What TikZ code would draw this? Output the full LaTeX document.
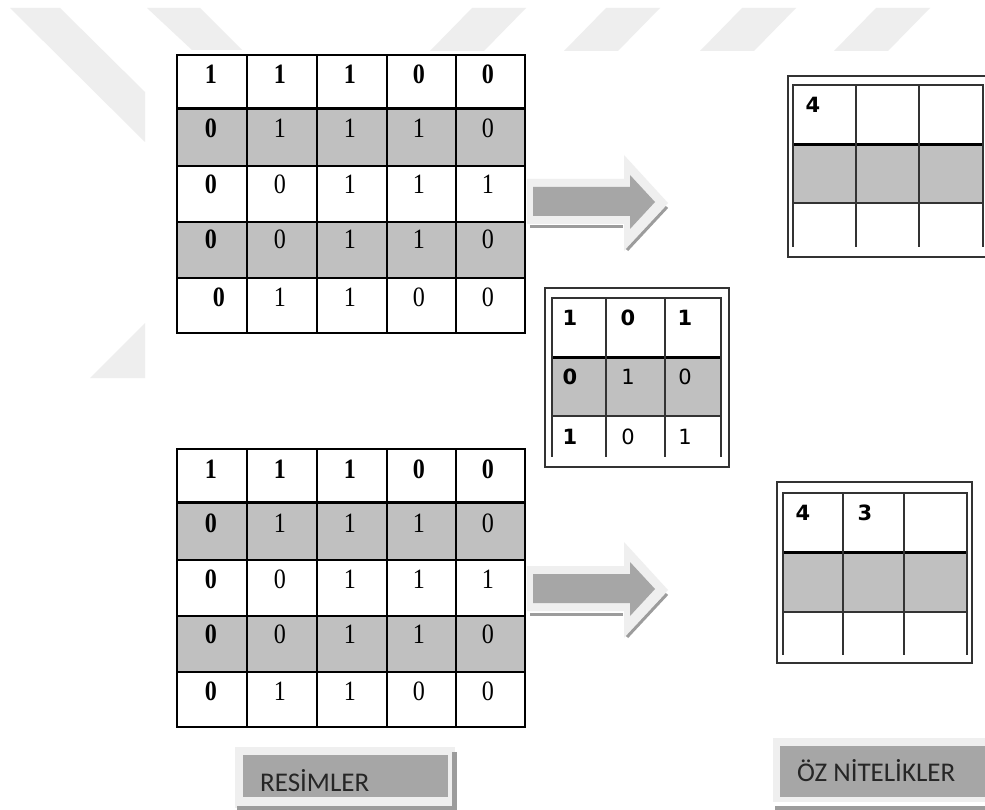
\documentclass[tikz,border=0pt]{standalone}
\usepackage{fontspec}
\newfontfamily\matfont[FakeStretch=0.86]{Liberation Serif}
\newfontfamily\kerfont{DejaVu Sans}
\newfontfamily\lblfont{Carlito}
\definecolor{cellgray}{HTML}{C0C0C0}
\definecolor{arrowgray}{HTML}{A6A6A6}
\definecolor{shadowgray}{HTML}{9C9C9C}
\definecolor{glowgray}{HTML}{EFEFEF}
\definecolor{wmgray}{HTML}{EEEEEE}
\definecolor{framegray}{HTML}{333333}

\newcommand\imgmatrix[2]{%
  \fill[cellgray] (177,108.5) rectangle (525,166);
  \fill[cellgray] (177,222) rectangle (525,278);
  \foreach \yy in {55,166,222,278,333} \draw[gridline] (176.2,\yy) -- (525.8,\yy);
  \draw[thickline] (176.2,108.5) -- (525.8,108.5);
  \foreach \xx in {177,247,317,387,456,525} \draw[gridline] (\xx,55) -- (\xx,333);
  \foreach \vals [count=\r] in {{1,1,1,0,0},{0,1,1,1,0},{0,0,1,1,1},{0,0,1,1,0},{0,1,1,0,0}} {
    \pgfmathsetmacro\bs{{84,138,194,249,306}[\r-1]}
    \foreach \v [count=\c] in \vals {
      \pgfmathsetmacro\cx{{211,280,350,419,488}[\c-1]}
      \def\fw{\mdseries}
      \ifnum\r=1 \def\fw{\bfseries}\fi
      \ifnum\c=1 \def\fw{\bfseries}\fi
      \ifnum\r=5 \ifnum\c=1 \pgfmathsetmacro\cx{\cx+#2}\fi\fi
      \node[mdig] (#1-\r-\c) at (\cx,\bs) {\fw\v};
    }
  }
}

\newcommand\blockarrow[1]{%
  \begin{scope}[shift={(0,#1)}]
    \fill[glowgray] (527,179) -- (624,179) -- (624,155) -- (668,203) -- (624,251) -- (624,224) -- (527,224) -- cycle;
    \draw[shadowgray, line width=3pt] (530,227) -- (623,227);
    \draw[shadowgray, line width=3pt] (667,207) -- (627,250);
    \fill[arrowgray] (533,187) -- (630,187) -- (630,175) -- (655,202) -- (630,229) -- (630,216) -- (533,216) -- cycle;
  \end{scope}%
}

\begin{document}
\begin{tikzpicture}[x=1pt,y=-1pt,
  gridline/.style={line width=1.6pt, black},
  thickline/.style={line width=3.2pt, black},
  fgrid/.style={line width=1.5pt, framegray},
  fthick/.style={line width=3pt, black},
  framebox/.style={line width=1.5pt, framegray},
  mdig/.style={inner sep=0pt, anchor=base, font=\matfont\fontsize{28}{28}\selectfont},
  kdig/.style={inner sep=0pt, anchor=base, font=\kerfont\fontsize{21}{21}\selectfont},
  fdig/.style={inner sep=0pt, anchor=base, font=\kerfont\bfseries\fontsize{21}{21}\selectfont},
  lbl/.style={inner sep=0pt, anchor=base west, text=black!85, font=\lblfont\fontsize{27}{27}\selectfont}]
\useasboundingbox (0,0) rectangle (985,810);
\clip (0,0) rectangle (985,810);
\fill[white] (0,0) rectangle (985,810);

% watermark
\fill[wmgray] (10,8) -- (60,8) -- (145,92) -- (145,142) -- cycle;
\fill[wmgray] (147,8) -- (200,8) -- (242,50) -- (192,50) -- cycle;
\fill[wmgray] (90,378) -- (145,378) -- (145,323) -- cycle;
\foreach \bl in {430,564,700,834}
  \fill[wmgray] (\bl,51) -- (\bl+42,8) -- (\bl+96,8) -- (\bl+54,51) -- cycle;

% input images
\imgmatrix{t}{8}
\begin{scope}[shift={(0,394)}]
  \imgmatrix{b}{0}
\end{scope}

% arrows
\blockarrow{0}
\blockarrow{387}

% kernel
\draw[framebox] (545,288) rectangle (729,467);
\fill[cellgray] (552,357) rectangle (721,416);
\draw[fgrid] (551.2,298) -- (721.8,298);
\draw[fthick] (551.2,357) -- (721.8,357);
\draw[fgrid] (552,416) -- (721,416);
\foreach \xx in {552,606,665,721} \draw[fgrid] (\xx,298) -- (\xx,457);
\foreach \vals [count=\r] in {{1,0,1},{0,1,0},{1,0,1}} {
  \pgfmathsetmacro\bs{{325.5,384.5,444.5}[\r-1]}
  \foreach \v [count=\c] in \vals {
    \pgfmathsetmacro\cx{{570,628,685}[\c-1]}
    \def\fw{\mdseries}
    \ifnum\r=1 \def\fw{\bfseries}\fi
    \ifnum\c=1 \def\fw{\bfseries}\fi
    \node[kdig] (k-\r-\c) at (\cx,\bs) {\fw\v};
  }
}

% feature map top
\draw[framebox] (788,76) rectangle (1000,257);
\fill[cellgray] (793,145) rectangle (983,203);
\draw[fgrid] (792.2,85) -- (983.8,85);
\draw[fthick] (792.2,145) -- (983.8,145);
\draw[fgrid] (793,203) -- (983,203);
\foreach \xx in {793,856,919,983} \draw[fgrid] (\xx,85) -- (\xx,247);
\node[fdig] (ft-1-1) at (813,112.5) {4};

% feature map bottom
\draw[framebox] (777,482) rectangle (972,663);
\fill[cellgray] (783,552) rectangle (967,612);
\draw[fgrid] (782.2,493) -- (967.8,493);
\draw[fthick] (782.2,552) -- (967.8,552);
\draw[fgrid] (783,612) -- (967,612);
\foreach \xx in {783,843,904,967} \draw[fgrid] (\xx,493) -- (\xx,655);
\node[fdig] (fb-1-1) at (803,520.5) {4};
\node[fdig] (fb-1-2) at (865,520.5) {3};

% labels
\fill[glowgray] (235,747) rectangle (455,808);
\fill[shadowgray] (452,752) rectangle (457,810);
\fill[shadowgray] (237,806) rectangle (457,810);
\fill[arrowgray] (243,755) rectangle (448,797);
\node[lbl] (resimler) at (260,791) {RESİMLER};

\fill[glowgray] (773,738) rectangle (990,802);
\fill[shadowgray] (775,806) rectangle (990,812);
\fill[arrowgray] (780,746) rectangle (990,797);
\node[lbl] (oznit) at (797,781) {ÖZ NİTELİKLER};
\end{tikzpicture}
\end{document}
